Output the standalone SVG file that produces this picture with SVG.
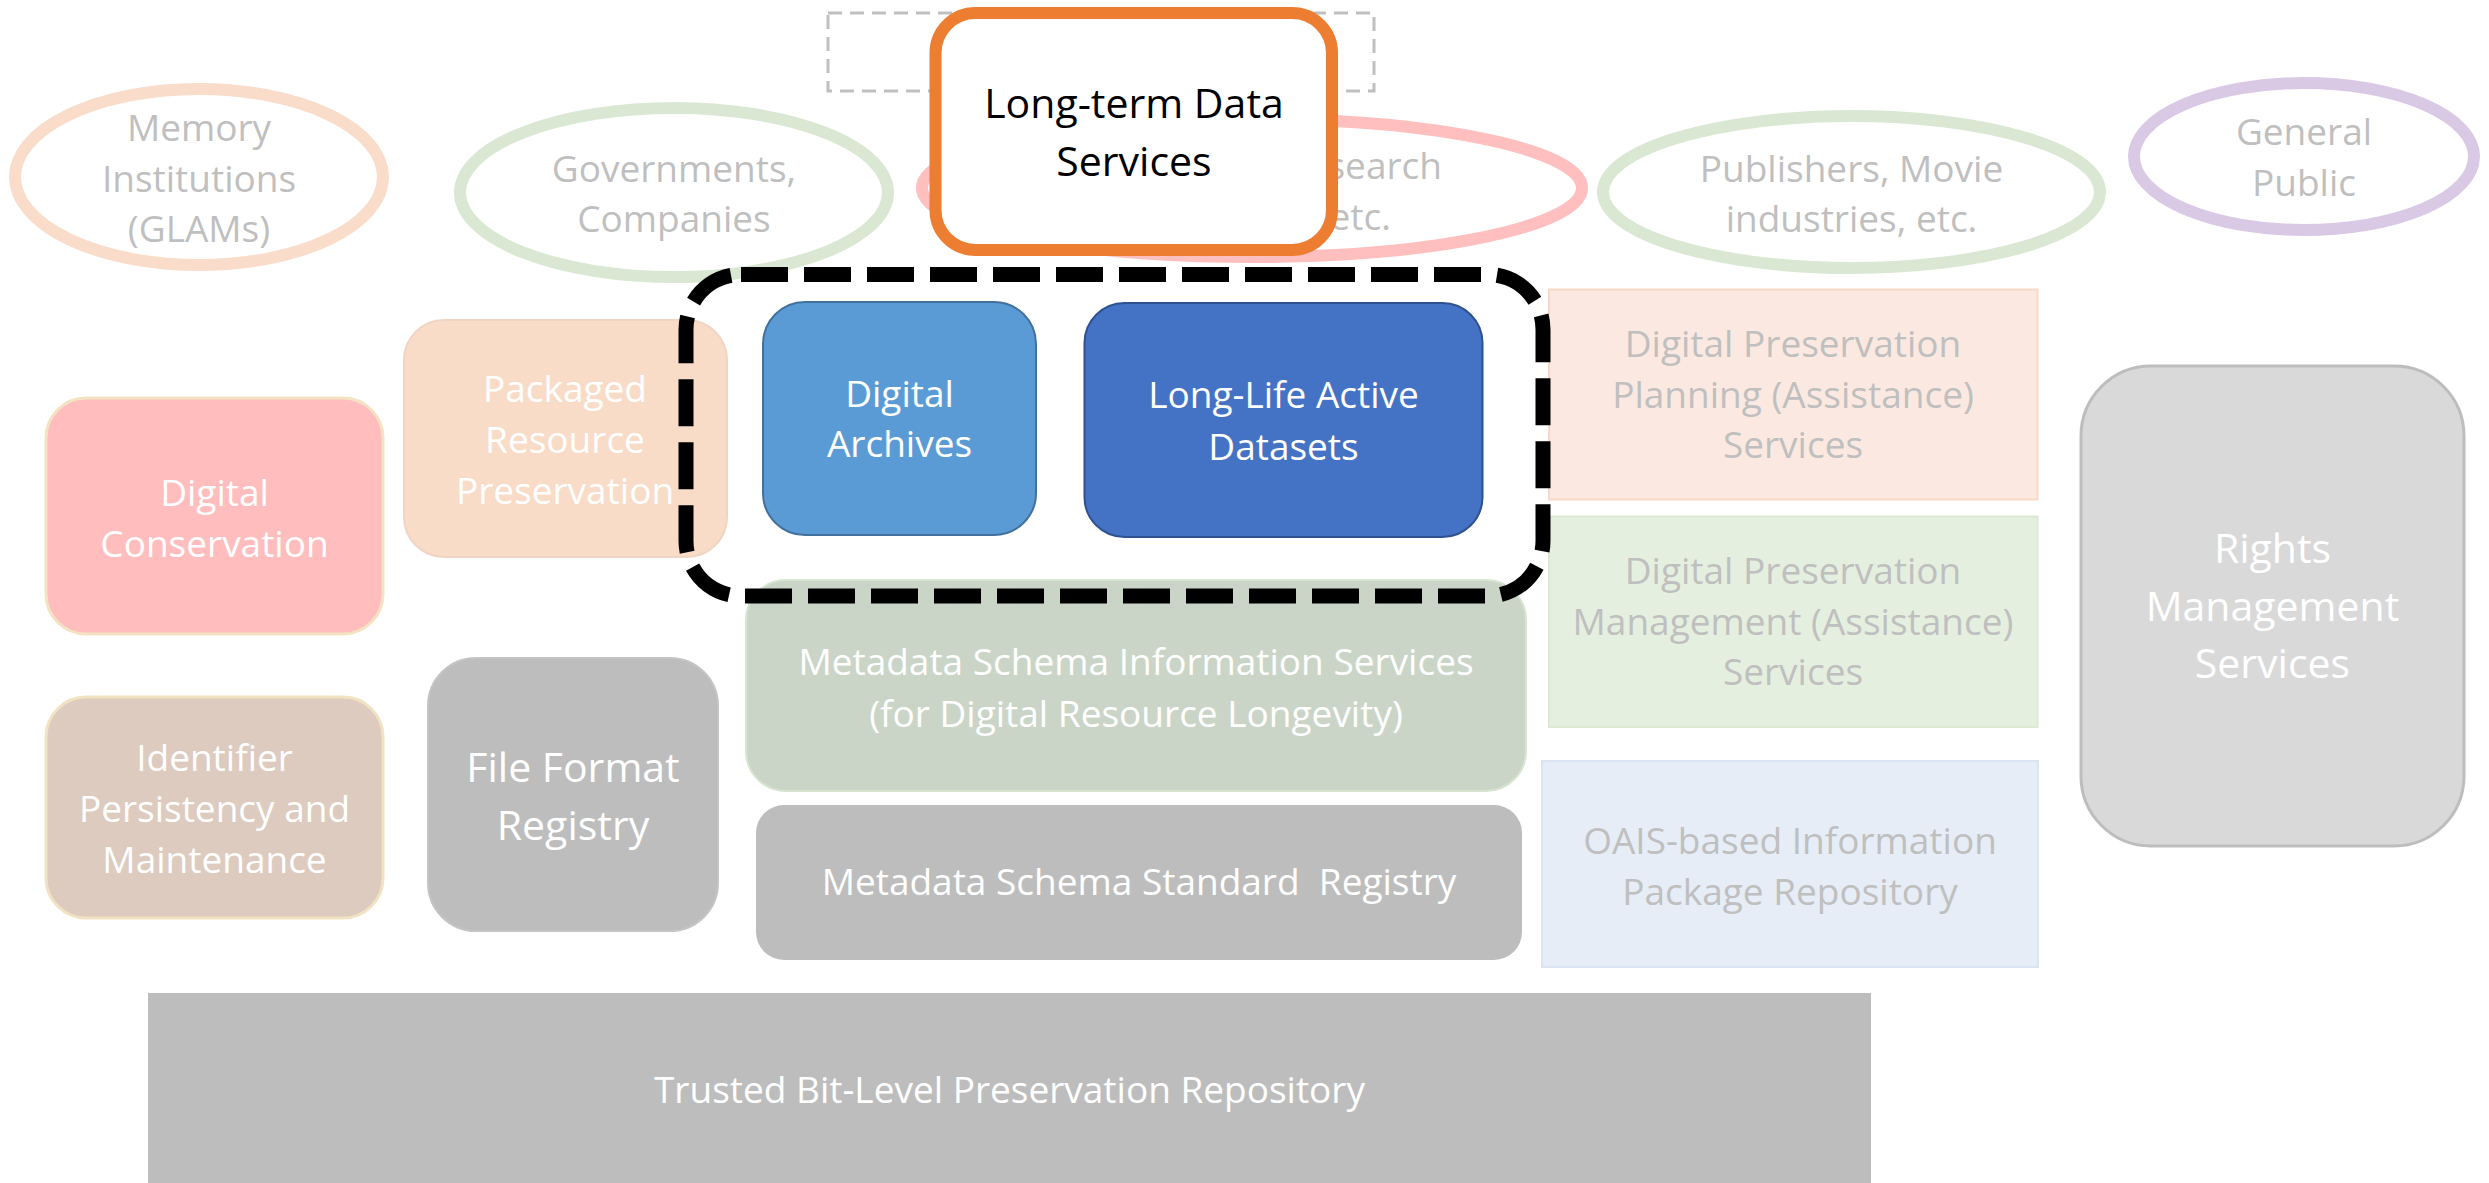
<svg xmlns="http://www.w3.org/2000/svg" width="2489" height="1183" viewBox="0 0 2489 1183">
<style>
.t{font-family:'Open Sans','Noto Sans',sans-serif;font-size:37px;text-anchor:middle}
.big{font-size:41px}
.w{fill:#ffffff}
.g{fill:#BFBFBF}
.k{fill:#000000}
.ell{fill:none;stroke-width:12}
</style>
<rect width="2489" height="1183" fill="#ffffff"/>
<g id="stakeholders-frame">
<rect x="828" y="13" width="546" height="78" fill="none" stroke="#BFBFBF" stroke-width="3" stroke-dasharray="14 8"/>
</g>
<g id="memory-institutions">
<ellipse class="ell" cx="199" cy="177" rx="184" ry="88" stroke="#F9DCC9"/>
<text class="t g" x="199" y="141">Memory</text>
<text class="t g" x="199" y="192">Institutions</text>
<text class="t g" x="199" y="242">(GLAMs)</text>
</g>
<g id="governments">
<ellipse class="ell" cx="674" cy="192.5" rx="214" ry="84.5" stroke="#DAE8D3"/>
<text class="t g" x="674" y="182">Governments,</text>
<text class="t g" x="674" y="232">Companies</text>
</g>
<g id="research">
<ellipse class="ell" cx="1252" cy="188" rx="330" ry="69" stroke="#FFBFBF"/>
<text class="t g" x="1442" y="179" style="text-anchor:end">search</text>
<text class="t g" x="1391" y="230" style="text-anchor:end">etc.</text>
</g>
<g id="publishers">
<ellipse class="ell" cx="1851.5" cy="192" rx="248.5" ry="76" stroke="#DAE8D3"/>
<text class="t g" x="1851.5" y="182">Publishers, Movie</text>
<text class="t g" x="1851.5" y="232">industries, etc.</text>
</g>
<g id="general-public">
<ellipse class="ell" cx="2304" cy="156.5" rx="170" ry="73.5" stroke="#D9C9E5"/>
<text class="t g" x="2304" y="145">General</text>
<text class="t g" x="2304" y="196">Public</text>
</g>
<g id="long-term-data-services">
<rect x="935.5" y="13" width="396.5" height="237" rx="40" fill="#ffffff" stroke="#ED7D31" stroke-width="12"/>
<text class="t big k" x="1134" y="118">Long-term Data</text>
<text class="t big k" x="1134" y="176">Services</text>
</g>
<g id="packaged-resource-preservation">
<rect x="404" y="320" width="323" height="237" rx="40" fill="#F8DCC8" stroke="#F1D5C4" stroke-width="2"/>
<text class="t w" x="565" y="402">Packaged</text>
<text class="t w" x="565" y="453">Resource</text>
<text class="t w" x="565" y="504">Preservation</text>
</g>
<g id="digital-conservation">
<rect x="46" y="398" width="337" height="236" rx="40" fill="#FFBDBD" stroke="#F3E3C3" stroke-width="3"/>
<text class="t w" x="214.5" y="506">Digital</text>
<text class="t w" x="214.5" y="557">Conservation</text>
</g>
<g id="identifier-persistency">
<rect x="46" y="697" width="337" height="221" rx="40" fill="#DDCBBF" stroke="#F1E2C2" stroke-width="3"/>
<text class="t w" x="214.5" y="771">Identifier</text>
<text class="t w" x="214.5" y="822">Persistency and</text>
<text class="t w" x="214.5" y="873">Maintenance</text>
</g>
<g id="file-format-registry">
<rect x="428" y="658" width="290" height="273" rx="48" fill="#BDBDBD" stroke="#C4C4C4" stroke-width="2"/>
<text class="t big w" x="573" y="782">File Format</text>
<text class="t big w" x="573" y="840">Registry</text>
</g>
<g id="digital-archives">
<rect x="763" y="302" width="273" height="233" rx="42" fill="#5B9BD5" stroke="#41719C" stroke-width="2"/>
<text class="t w" x="899.5" y="407">Digital</text>
<text class="t w" x="899.5" y="457">Archives</text>
</g>
<g id="long-life-active-datasets">
<rect x="1084.5" y="303" width="398" height="234" rx="40" fill="#4472C4" stroke="#2F528F" stroke-width="2"/>
<text class="t w" x="1283.5" y="408">Long-Life Active</text>
<text class="t w" x="1283.5" y="460">Datasets</text>
</g>
<g id="metadata-schema-information-services">
<rect x="746" y="580" width="780" height="211" rx="40" fill="#CAD5C8" stroke="#D6E4D0" stroke-width="2"/>
<text class="t w" x="1136" y="675">Metadata Schema Information Services</text>
<text class="t w" x="1136" y="727">(for Digital Resource Longevity)</text>
</g>
<g id="metadata-schema-standard-registry">
<rect x="756" y="805" width="766" height="155" rx="28" fill="#BDBDBD"/>
<text class="t w" x="1139" y="895" xml:space="preserve">Metadata Schema Standard  Registry</text>
</g>
<g id="dp-planning">
<rect x="1549" y="289.5" width="488.5" height="210" fill="#FBE9E1" stroke="#F9D8C5" stroke-width="2"/>
<text class="t g" x="1793" y="357">Digital Preservation</text>
<text class="t g" x="1793" y="407.5">Planning (Assistance)</text>
<text class="t g" x="1793" y="458">Services</text>
</g>
<g id="dp-management">
<rect x="1549" y="516.5" width="488.5" height="210.5" fill="#E5EFDF" stroke="#DCEAD4" stroke-width="2"/>
<text class="t g" x="1793" y="584">Digital Preservation</text>
<text class="t g" x="1793" y="634.5">Management (Assistance)</text>
<text class="t g" x="1793" y="685">Services</text>
</g>
<g id="oais-repository">
<rect x="1542" y="761" width="496" height="206" fill="#E6EDF7" stroke="#DAE4F3" stroke-width="2"/>
<text class="t g" x="1790" y="854">OAIS-based Information</text>
<text class="t g" x="1790" y="905">Package Repository</text>
</g>
<g id="rights-management-services">
<rect x="2081" y="366" width="383" height="480" rx="70" fill="#D9D9D9" stroke="#BDBDBD" stroke-width="3"/>
<text class="t big w" x="2272.5" y="563">Rights</text>
<text class="t big w" x="2272.5" y="620.5">Management</text>
<text class="t big w" x="2272.5" y="678">Services</text>
</g>
<g id="trusted-bit-level-repository">
<rect x="148" y="993" width="1723" height="195" fill="#BDBDBD"/>
<text class="t w" x="1009.5" y="1103">Trusted Bit-Level Preservation Repository</text>
</g>
<g id="focus-group">
<rect x="686" y="274.5" width="857" height="321.5" rx="55" fill="none" stroke="#000000" stroke-width="15" stroke-dasharray="47 16"/>
</g>
<g id="connectors"></g>
</svg>
